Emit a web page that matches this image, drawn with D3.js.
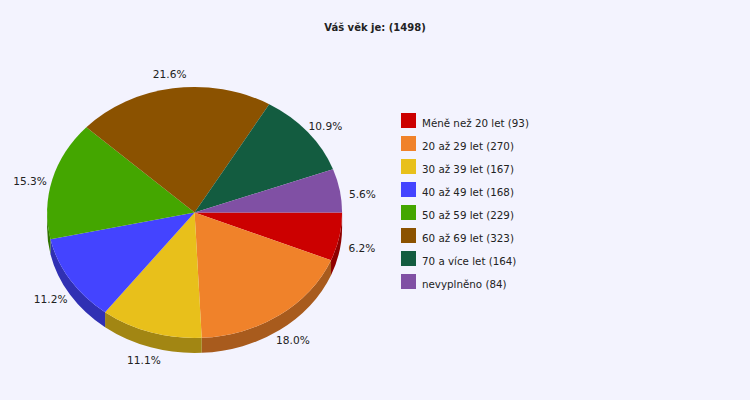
<!DOCTYPE html>
<html>
<head>
<meta charset="utf-8">
<script src="https://cdn.jsdelivr.net/npm/d3@7"></script>
<style>
  html, body { margin: 0; padding: 0; background: #f3f3fe; }
  svg { display: block; }
  text { font-family: "DejaVu Sans", sans-serif; fill: #222; }
</style>
</head>
<body>
<svg id="chart" width="750" height="400"></svg>
<script>
const title = "Váš věk je: (1498)";
const categories = ["Méně než 20 let", "20 až 29 let", "30 až 39 let", "40 až 49 let",
                    "50 až 59 let", "60 až 69 let", "70 a více let", "nevyplněno"];
const values = [93, 270, 167, 168, 229, 323, 164, 84];
const colors = ["#cc0000", "#f0822a", "#e8c01b", "#4444ff", "#44a600", "#8b5200", "#135c40", "#8050a4"];

const W = 750, H = 400;
const cx = 194.6, cy = 212.5, rx = 147.5, ry = 125.5, depth = 15;
const labelRx = rx * 1.156, labelRy = ry * 1.171, labelCy = cy + depth / 2;

const svg = d3.select("#chart");
svg.append("rect").attr("width", W).attr("height", H).attr("fill", "#f3f3fe");

svg.append("text")
  .attr("x", W / 2).attr("y", 31)
  .attr("text-anchor", "middle")
  .style("font-size", "10px").style("font-weight", "bold")
  .text(title);

const total = d3.sum(values);
const pie = d3.pie().sort(null).value(d => d)
  .startAngle(Math.PI / 2).endAngle(Math.PI / 2 + 2 * Math.PI);
const arcs = pie(values);

const px = a => cx + rx * Math.sin(a);
const py = a => cy - ry * Math.cos(a);

// side walls (front half only)
const walls = svg.append("g");
arcs.forEach((d, i) => {
  const a1 = Math.max(d.startAngle, Math.PI / 2);
  const a2 = Math.min(d.endAngle, 3 * Math.PI / 2);
  if (a1 >= a2) return;
  const p = `M${px(a1)},${py(a1)} A${rx},${ry} 0 0 1 ${px(a2)},${py(a2)}` +
            ` L${px(a2)},${py(a2) + depth} A${rx},${ry} 0 0 0 ${px(a1)},${py(a1) + depth} Z`;
  walls.append("path").attr("d", p)
    .attr("fill", d3.color(colors[i]).darker(1).formatHex());
});

// top faces
const arcGen = d3.arc().innerRadius(0).outerRadius(rx);
svg.append("g")
  .attr("transform", `translate(${cx},${cy}) scale(1,${ry / rx})`)
  .selectAll("path").data(arcs).join("path")
  .attr("d", arcGen)
  .attr("fill", (d, i) => colors[i]);

// labels
const fmt = d3.format(".1f");
svg.append("g").selectAll("text").data(arcs).join("text")
  .attr("x", d => cx + labelRx * Math.sin((d.startAngle + d.endAngle) / 2))
  .attr("y", d => labelCy - labelRy * Math.cos((d.startAngle + d.endAngle) / 2))
  .attr("dy", "0.36em")
  .attr("text-anchor", "middle")
  .style("font-size", "10.6px")
  .text(d => fmt(d.value / total * 100) + "%");

// legend
const lx = 401, ly = 113, step = 23, sw = 15;
const leg = svg.append("g").selectAll("g").data(categories).join("g")
  .attr("transform", (d, i) => `translate(${lx},${ly + i * step})`);
leg.append("rect").attr("width", sw).attr("height", sw).attr("fill", (d, i) => colors[i]);
leg.append("text").attr("x", 21).attr("y", 14)
  .style("font-size", "10.3px")
  .text((d, i) => `${d} (${values[i]})`);
</script>
</body>
</html>
